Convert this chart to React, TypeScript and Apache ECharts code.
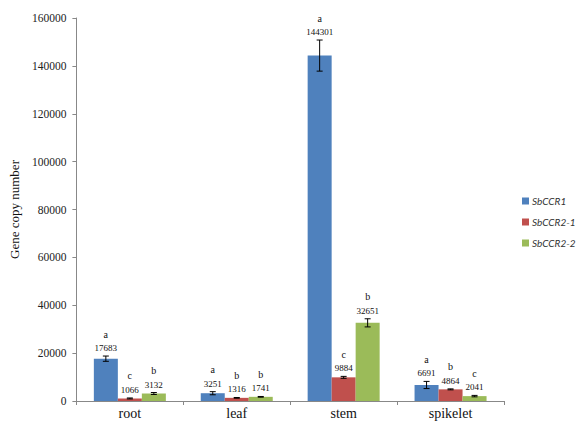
import React, { useEffect, useRef } from "react";
import * as echarts from "echarts";

const categories = ["root", "leaf", "stem", "spikelet"];
const seriesNames = ["SbCCR1", "SbCCR2-1", "SbCCR2-2"];
const sbCCR1 = [17683, 3251, 144301, 6691];
const sbCCR2_1 = [1066, 1316, 9884, 4864];
const sbCCR2_2 = [3132, 1741, 32651, 2041];
const err1 = [1100, 650, 6500, 1500];
const err2_1 = [200, 150, 400, 200];
const err2_2 = [400, 150, 1700, 300];
const letters1 = ["a", "a", "a", "a"];
const letters2_1 = ["c", "b", "c", "b"];
const letters2_2 = ["b", "b", "b", "c"];
const colors = ["#4F81BD", "#C0504D", "#9BBB59"];

const BAR_W = 24;
const SERIF = "'Liberation Serif', 'Times New Roman', serif";

export default function App() {
  const ref = useRef<HTMLDivElement>(null);
  useEffect(() => {
    if (!ref.current) return;
    const chart = echarts.init(ref.current, null, { renderer: "svg" });
    const values = [sbCCR1, sbCCR2_1, sbCCR2_2];
    const errs = [err1, err2_1, err2_2];
    const letters = [letters1, letters2_1, letters2_2];

    const barSeries = values.map((v, i) => ({
      name: seriesNames[i],
      type: "bar",
      data: v,
      barWidth: BAR_W,
      barGap: "0%",
      itemStyle: { color: colors[i] },
    }));

    const errSeries = values.map((v, i) => ({
      type: "custom",
      name: seriesNames[i] + "-err",
      data: v.map((val, k) => [k, val, errs[i][k]]),
      z: 10,
      renderItem: (params: any, api: any) => {
        const k = api.value(0);
        const val = api.value(1);
        const e = api.value(2);
        const base = api.coord([k, val]);
        const x = base[0] + (i - 1) * BAR_W;
        const top = api.coord([k, val + e])[1];
        const bot = api.coord([k, val - e])[1];
        const cap = 3;
        const ls = { stroke: "#000", lineWidth: 1 };
        return {
          type: "group",
          children: [
            { type: "line", shape: { x1: x, y1: top, x2: x, y2: bot }, style: ls },
            { type: "line", shape: { x1: x - cap, y1: top, x2: x + cap, y2: top }, style: ls },
            { type: "line", shape: { x1: x - cap, y1: bot, x2: x + cap, y2: bot }, style: ls },
            {
              type: "text",
              style: {
                x: x,
                y: top - 8,
                text: String(val),
                fill: "#111",
                font: "9px " + SERIF,
                align: "center",
                verticalAlign: "middle",
              },
            },
            {
              type: "text",
              style: {
                x: x,
                y: top - 22,
                text: letters[i][k],
                fill: "#111",
                font: "10px " + SERIF,
                align: "center",
                verticalAlign: "middle",
              },
            },
          ],
        };
      },
    }));

    chart.setOption({
      animation: false,
      backgroundColor: "#fff",
      grid: { left: 62, right: 72, top: 18, bottom: 34, containLabel: false },
      legend: {
        data: seriesNames,
        orient: "vertical",
        left: 522,
        top: 196,
        padding: 0,
        itemWidth: 7,
        itemHeight: 7,
        itemGap: 11,
        icon: "rect",
        textStyle: {
          fontFamily: "Lato, 'Liberation Sans', sans-serif",
          fontStyle: "italic",
          fontSize: 10,
          color: "#333",
          padding: [0, 0, 0, -2],
        },
      },
      xAxis: {
        type: "category",
        data: categories,
        axisLine: { lineStyle: { color: "#888" } },
        axisTick: { show: true, length: 4, lineStyle: { color: "#888" } },
        axisLabel: { fontFamily: SERIF, fontSize: 14, color: "#111", margin: 5 },
        splitLine: { show: false },
      },
      yAxis: {
        type: "value",
        min: 0,
        max: 160000,
        interval: 20000,
        name: "Gene copy number",
        nameLocation: "middle",
        nameGap: 48,
        nameTextStyle: { fontFamily: SERIF, fontSize: 13, color: "#111" },
        axisLine: { show: true, lineStyle: { color: "#888" } },
        axisTick: { show: true, length: 4, lineStyle: { color: "#888" } },
        axisLabel: {
          fontFamily: SERIF,
          fontSize: 11.5,
          color: "#222",
          margin: 10,
          formatter: (v: number) => String(v),
        },
        splitLine: { show: false },
      },
      series: [...barSeries, ...errSeries],
    });
    return () => chart.dispose();
  }, []);
  return <div ref={ref} style={{ width: 576, height: 435, position: "absolute", left: 0, top: 0 }} />;
}
